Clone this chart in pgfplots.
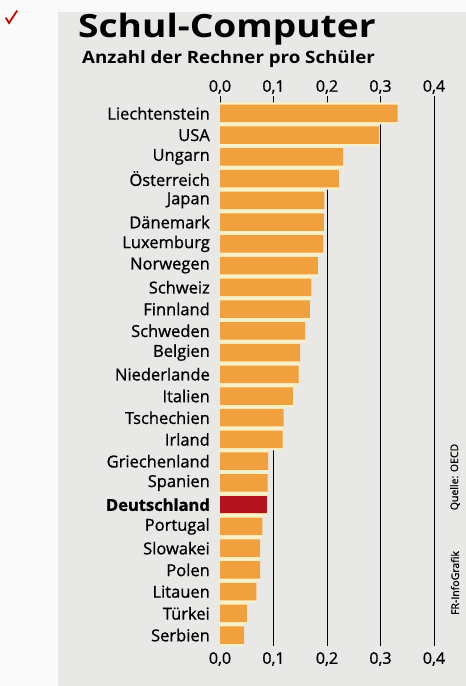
\documentclass[border=0pt]{standalone}
\usepackage{pgfplots}
\pgfplotsset{compat=1.18}
\usepackage{pgfplotstable}
\usepackage{fontspec}
\setmainfont{Open Sans}
\newfontfamily\titlefont[FakeStretch=1.16]{Open Sans}
\newfontfamily\subfont[FakeStretch=1.10]{Open Sans}
\newfontfamily\semifont[FakeBold=0.9]{Open Sans}
\definecolor{barorange}{HTML}{F0A03C}
\definecolor{bardeu}{HTML}{B3121E}
\definecolor{pale}{HTML}{FBF1C8}
\definecolor{bg}{HTML}{E8E8E6}
\pgfplotstableread{
idx val
0 0.332
1 0.297
2 0.230
3 0.222
4 0.195
5 0.194
6 0.193
7 0.183
8 0.171
9 0.168
10 0.159
11 0.150
12 0.147
13 0.136
14 0.119
15 0.117
16 0.090
17 0.089
18 0.087
19 0.079
20 0.075
21 0.075
22 0.068
23 0.050
24 0.045
}\datatable
\pgfplotstableread{
idx val
18 0.087
}\deutable
\begin{document}
\begin{tikzpicture}[x=1pt,y=1pt]
\fill[white!96!gray] (0,0) rectangle (466,686);
\fill[bg] (58,0) rectangle (466,674);
\path[use as bounding box] (0,0) rectangle (466,686);
\draw[red!80!black, line width=1.8pt, line cap=round] (6,668) -- (9,663) -- (17,675);
\node[anchor=base west, inner sep=0pt, font=\fontsize{32}{32}\titlefont\bfseries] at (78,648) {Schul-Computer};
\node[anchor=base west, inner sep=0pt, font=\fontsize{17}{17}\subfont\bfseries] at (82,622) {Anzahl der Rechner pro Schüler};
\node[rotate=90, inner sep=0pt, font=\fontsize{10.5}{10.5}\semifont] at (455,209) {Quelle: OECD};
\node[rotate=90, inner sep=0pt, font=\fontsize{10.5}{10.5}\semifont] at (455,103) {FR-InfoGrafik};
\begin{axis}[
  at={(220pt,40pt)}, anchor=south west, scale only axis,
  width=214pt, height=550pt,
  xmin=0, xmax=0.4, ymin=-0.8, ymax=24.5, y dir=reverse,
  xbar, bar shift=0pt,
  axis line style={draw=none}, major tick length=0pt,
  xmajorgrids, grid style={black, line width=0.9pt},
  xtick={0,0.1,0.2,0.3,0.4},
  xticklabel pos=lower,
  xticklabel style={font=\fontsize{16}{16}\semifont, inner sep=0pt, yshift=-6pt},
  ytick={0,...,24},
  yticklabels={Liechtenstein,USA,Ungarn,Österreich,Japan,Dänemark,Luxemburg,Norwegen,Schweiz,Finnland,Schweden,Belgien,Niederlande,Italien,Tschechien,Irland,Griechenland,Spanien,{\bfseries Deutschland},Portugal,Slowakei,Polen,Litauen,Türkei,Serbien},
  yticklabel style={font=\fontsize{16.5}{16.5}\semifont, inner sep=0pt, xshift=-10pt, anchor=east},
  /pgf/number format/assume math mode=true,
  /pgf/number format/use comma,
  /pgf/number format/fixed,
  /pgf/number format/fixed zerofill,
  /pgf/number format/precision=1,
]
\addplot[fill=pale, draw=none, bar width=22pt] table[x=val,y=idx] {\datatable};
\addplot[fill=barorange, draw=none, bar width=17.5pt] table[x=val,y=idx] {\datatable};
\addplot[fill=bardeu, draw=none, bar width=17.5pt] table[x=val,y=idx] {\deutable};
\end{axis}
\begin{axis}[
  at={(220pt,40pt)}, anchor=south west, scale only axis,
  width=214pt, height=550pt,
  xmin=0, xmax=0.4, ymin=-0.8, ymax=24.5, y dir=reverse,
  axis line style={draw=none}, major tick length=0pt,
  xtick={0,0.1,0.2,0.3,0.4}, ytick=\empty,
  xticklabel pos=upper,
  xticklabel style={font=\fontsize{16}{16}\semifont, inner sep=0pt, yshift=2pt},
  /pgf/number format/assume math mode=true,
  /pgf/number format/use comma,
  /pgf/number format/fixed,
  /pgf/number format/fixed zerofill,
  /pgf/number format/precision=1,
]
\end{axis}
\end{tikzpicture}
\end{document}
